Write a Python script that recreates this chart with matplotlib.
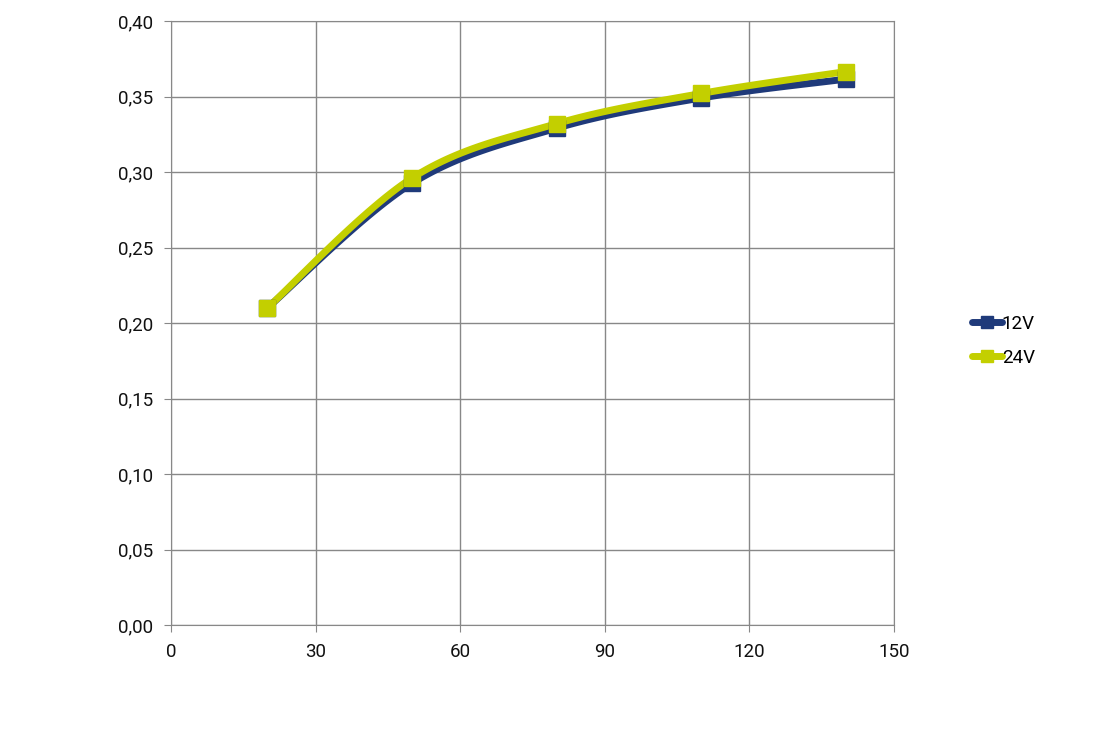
import numpy as np
import matplotlib
matplotlib.use("Agg")
import matplotlib.pyplot as plt

x_vals = [20, 50, 80, 110, 140]
v12 = [0.210, 0.2925, 0.329, 0.349, 0.3615]
v24 = [0.210, 0.296, 0.332, 0.352, 0.3665]
series_names = ["12V", "24V"]
x_ticks = [0, 30, 60, 90, 120, 150]
y_ticks = [0.00, 0.05, 0.10, 0.15, 0.20, 0.25, 0.30, 0.35, 0.40]

plt.rcParams['font.family'] = ['Roboto', 'DejaVu Sans']

def smooth(xs, ys, n=30):
    xs = np.asarray(xs, float); ys = np.asarray(ys, float)
    P = np.column_stack([xs, ys])
    P = np.vstack([P[0], P, P[-1]])
    out = []
    for i in range(1, len(P) - 2):
        p0, p1, p2, p3 = P[i-1], P[i], P[i+1], P[i+2]
        t = np.linspace(0, 1, n)[:, None]
        pts = 0.5 * ((2*p1) + (-p0 + p2)*t + (2*p0 - 5*p1 + 4*p2 - p3)*t**2 + (-p0 + 3*p1 - 3*p2 + p3)*t**3)
        out.append(pts if i == 1 else pts[1:])
    out = np.vstack(out)
    return out[:, 0], out[:, 1]

fig = plt.figure(figsize=(11.10, 7.41), dpi=100)
ax = fig.add_axes([171/1110, 1-625/741, (894-171)/1110, (625-21)/741])

c12 = "#1F3A7A"
c24 = "#C3CF00"
for vals, col, name in [(v12, c12, series_names[0]), (v24, c24, series_names[1])]:
    sx, sy = smooth(x_vals, vals)
    ax.plot(sx, sy, color=col, lw=5, solid_capstyle='round', zorder=3)
    ax.plot(x_vals, vals, ls='none', marker='s', ms=11, color=col, zorder=4)
    ax.plot([], [], color=col, lw=5, marker='s', ms=8, solid_capstyle='round', label=name)

ax.set_xlim(0, 150)
ax.set_ylim(0, 0.40)
ax.set_xticks(x_ticks)
ax.set_yticks(y_ticks)
ax.set_yticklabels([f"{v:.2f}".replace('.', ',') for v in y_ticks])
ax.grid(True, color='#888888', lw=1)
for s in ax.spines.values():
    s.set_color('#888888')
ax.tick_params(direction='out', length=5, color='#888888', labelsize=13.5, labelcolor='#111111')
ax.tick_params(axis='x', pad=8)
ax.tick_params(axis='y', pad=8)
ax.set_axisbelow(True)

leg = fig.legend(loc='upper left', bbox_to_anchor=(955/1110, 1-298/741), frameon=False,
                 fontsize=13.5, handlelength=1.6, handletextpad=0.0, labelspacing=0.85)

fig.savefig("out.png", dpi=100)
